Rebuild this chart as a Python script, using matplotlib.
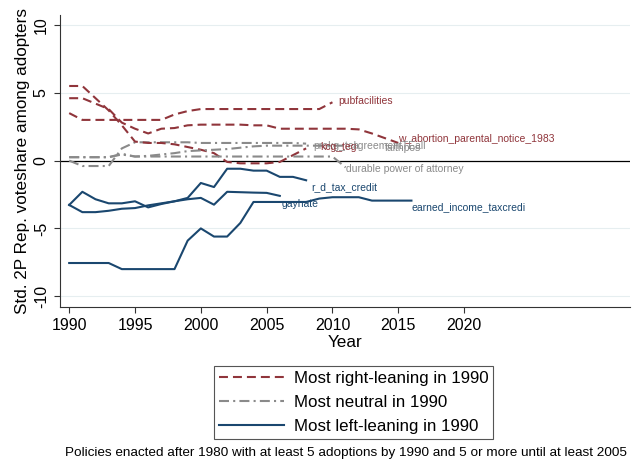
import matplotlib.pyplot as plt
from matplotlib.lines import Line2D

plt.rcParams['font.family'] = ['Liberation Sans', 'DejaVu Sans']

RED = '#90353b'
GRAY = '#8a8a8a'
BLUE = '#1a476f'

# most right-leaning policies in 1990
pub_years = list(range(1990, 2011))
pubfacilities = [3.5, 3.0, 3.0, 3.0, 3.0, 3.0, 3.0, 3.0, 3.4, 3.65, 3.8,
                 3.8, 3.8, 3.8, 3.8, 3.8, 3.8, 3.8, 3.8, 3.8, 4.3]
abort_years = list(range(1990, 2016))
w_abortion = [4.6, 4.6, 4.2, 3.8, 2.8, 2.35, 2.0, 2.35, 2.4, 2.6, 2.65,
              2.65, 2.65, 2.65, 2.6, 2.6, 2.35, 2.35, 2.35, 2.35, 2.35,
              2.35, 2.3, 2.0, 1.65, 1.3]
kcg_years = list(range(1990, 2009))
kcg_teg = [5.5, 5.5, 4.6, 3.7, 2.6, 1.4, 1.3, 1.3, 1.2, 1.0, 0.8,
           0.55, -0.1, -0.2, -0.2, -0.2, -0.1, 0.4, 0.9]

# most neutral policies in 1990
prek_years = list(range(1990, 2009))
prekg = [0.0, -0.4, -0.4, -0.4, 0.9, 1.35, 1.35, 1.35, 1.35, 1.35, 1.3,
         1.3, 1.3, 1.3, 1.3, 1.3, 1.3, 1.3, 1.25]
agree_years = list(range(1990, 2012))
agreement = [0.25, 0.25, 0.25, 0.25, 0.5, 0.3, 0.35, 0.45, 0.55, 0.7, 0.75,
             0.8, 0.85, 0.95, 1.05, 1.1, 1.1, 1.1, 1.1, 1.1, 1.1, 1.1]
dur_years = list(range(1990, 2012))
durable = [0.25, 0.25, 0.25, 0.25, 0.45, 0.3, 0.3, 0.3, 0.3, 0.3, 0.3,
           0.3, 0.3, 0.3, 0.3, 0.3, 0.3, 0.3, 0.3, 0.3, 0.3, -0.5]

# most left-leaning policies in 1990
rd_years = list(range(1990, 2009))
rd_tax_credit = [-3.27, -2.3, -2.85, -3.15, -3.15, -3.0, -3.45, -3.2, -3.0,
                 -2.75, -1.65, -1.95, -0.6, -0.6, -0.74, -0.74, -1.2, -1.2,
                 -1.45]
gay_years = list(range(1990, 2007))
gayhate = [-3.27, -3.8, -3.8, -3.7, -3.55, -3.5, -3.3, -3.15, -3.0, -2.85,
           -2.75, -3.25, -2.3, -2.33, -2.36, -2.38, -2.6]
eitc_years = list(range(1990, 2017))
earned_income = [-7.55, -7.55, -7.55, -7.55, -8.0, -8.0, -8.0, -8.0, -8.0,
                 -5.9, -5.0, -5.6, -5.6, -4.6, -3.05, -3.05, -3.05, -3.05,
                 -3.05, -2.8, -2.7, -2.7, -2.7, -2.95, -2.95, -2.95, -2.95]

red_style = dict(color=RED, lw=1.5, linestyle=(0, (4.3, 2.4)))
gray_style = dict(color=GRAY, lw=1.5, linestyle=(0, (4.8, 2.0, 1.0, 2.0)))
blue_style = dict(color=BLUE, lw=1.5, linestyle='-')

# (years, values, label, style, label offset in points)
series = [
    (pub_years, pubfacilities, 'pubfacilities', red_style, (4, 1)),
    (abort_years, w_abortion, 'w_abortion_parental_notice_1983', red_style, (0, 3)),
    (prek_years, prekg, 'prekg_tel', gray_style, (5, -2)),
    (kcg_years, kcg_teg, 'kcg_teg', red_style, (10, 1)),
    (agree_years, agreement, 'agreementTEall', gray_style, (5, 0)),
    (dur_years, durable, 'durable power of attorney', gray_style, (0, -1)),
    (rd_years, rd_tax_credit, 'r_d_tax_credit', blue_style, (4, -5)),
    (gay_years, gayhate, 'gayhate', blue_style, (1, -6)),
    (eitc_years, earned_income, 'earned_income_taxcredi', blue_style, (0, -5)),
]

fig = plt.figure(figsize=(6.34, 4.66), dpi=100)
ax = fig.add_axes([0.0946, 0.341, 0.899, 0.627])

for yv in [-10, -5, 5, 10]:
    ax.axhline(yv, color='#e6eef0', lw=0.8, zorder=0)
ax.axhline(0, color='black', lw=0.9, zorder=1)

for years, vals, name, style, off in series:
    ax.plot(years, vals, zorder=2, **style)
    ax.annotate(name, (years[-1], vals[-1]), xytext=off,
                textcoords='offset points', color=style['color'],
                fontsize=7.5, ha='left', va='center', zorder=3)

ax.annotate('faithpos', (agree_years[-1], agreement[-1]), xytext=(28, -1.5),
            textcoords='offset points', color=GRAY, fontsize=7.5,
            ha='left', va='center', zorder=3)

ax.set_xlim(1989.3, 2032.6)
ax.set_ylim(-10.8, 10.74)
ax.set_xticks([1990, 1995, 2000, 2005, 2010, 2015, 2020])
ax.set_yticks([-10, -5, 0, 5, 10])
ax.set_yticklabels(['-10', '-5', '0', '5', '10'], rotation=90, va='center')
ax.tick_params(labelsize=11.5, length=4, width=0.8, color='#333333', pad=4)
ax.set_xlabel('Year', fontsize=12.3, labelpad=1)
ax.set_ylabel('Std. 2P Rep. voteshare among adopters', fontsize=12.3, labelpad=3)

for side in ['top', 'right']:
    ax.spines[side].set_visible(False)
for side in ['left', 'bottom']:
    ax.spines[side].set_linewidth(0.8)
    ax.spines[side].set_color('#333333')

handles = [Line2D([], [], **red_style),
           Line2D([], [], **gray_style),
           Line2D([], [], **blue_style)]
labels = ['Most right-leaning in 1990', 'Most neutral in 1990',
          'Most left-leaning in 1990']
leg = fig.legend(handles, labels, loc='center', bbox_to_anchor=(0.558, 0.136),
                 bbox_transform=fig.transFigure, fontsize=12.2, handlelength=3.8,
                 handletextpad=0.6, labelspacing=0.52, borderpad=0.3,
                 fancybox=False, framealpha=1, edgecolor='#555555')
leg.get_frame().set_linewidth(0.8)

fig.text(0.545, 0.028, 'Policies enacted after 1980 with at least 5 adoptions '
         'by 1990 and 5 or more until at least 2005', ha='center', va='center',
         fontsize=9.7)

fig.savefig('out.png', dpi=100)
